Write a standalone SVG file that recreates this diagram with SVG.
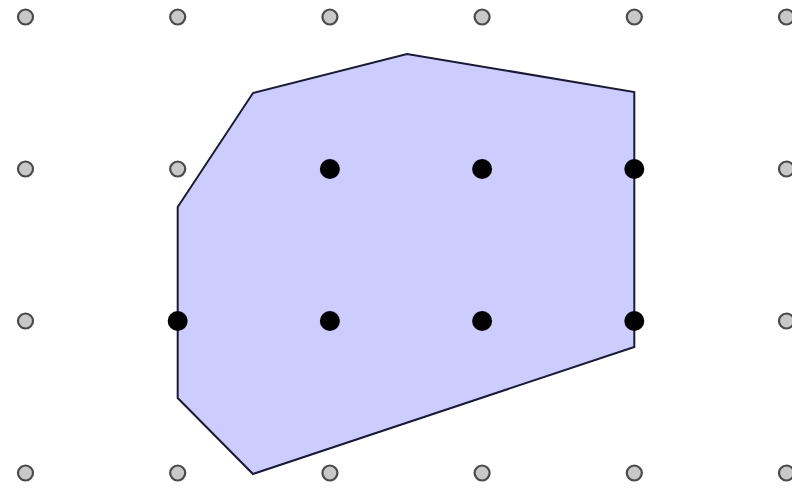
<svg xmlns="http://www.w3.org/2000/svg" width="792" height="490" viewBox="0 0 792 490">
<style>
.g{fill:#c8c8c8;stroke:#4a4a4a;stroke-width:2.2}
.b{fill:#000;stroke:none}
.poly{fill:#ccccff;stroke:#1a1a33;stroke-width:2;stroke-linejoin:miter}
</style>
<rect width="792" height="490" fill="#fff"/>
<g id="grid">
<circle class="g" cx="25.5" cy="17" r="7.5"/>
<circle class="g" cx="177.7" cy="17" r="7.5"/>
<circle class="g" cx="329.9" cy="17" r="7.5"/>
<circle class="g" cx="482.1" cy="17" r="7.5"/>
<circle class="g" cx="634.3" cy="17" r="7.5"/>
<circle class="g" cx="786.5" cy="17" r="7.5"/>
<circle class="g" cx="25.5" cy="169" r="7.5"/>
<circle class="g" cx="177.7" cy="169" r="7.5"/>
<circle class="g" cx="786.5" cy="169" r="7.5"/>
<circle class="g" cx="25.5" cy="321" r="7.5"/>
<circle class="g" cx="786.5" cy="321" r="7.5"/>
<circle class="g" cx="25.5" cy="473" r="7.5"/>
<circle class="g" cx="177.7" cy="473" r="7.5"/>
<circle class="g" cx="329.9" cy="473" r="7.5"/>
<circle class="g" cx="482.1" cy="473" r="7.5"/>
<circle class="g" cx="634.3" cy="473" r="7.5"/>
<circle class="g" cx="786.5" cy="473" r="7.5"/>
</g>
<g id="polygon">
<polygon class="poly" points="253,93 407,54 634.3,92 634.3,347 253,474 177.7,398 177.7,207"/>
</g>
<g id="inside">
<circle class="b" cx="329.9" cy="169" r="10"/>
<circle class="b" cx="482.1" cy="169" r="10"/>
<circle class="b" cx="634.3" cy="169" r="10"/>
<circle class="b" cx="177.7" cy="321" r="10"/>
<circle class="b" cx="329.9" cy="321" r="10"/>
<circle class="b" cx="482.1" cy="321" r="10"/>
<circle class="b" cx="634.3" cy="321" r="10"/>
</g>
</svg>
